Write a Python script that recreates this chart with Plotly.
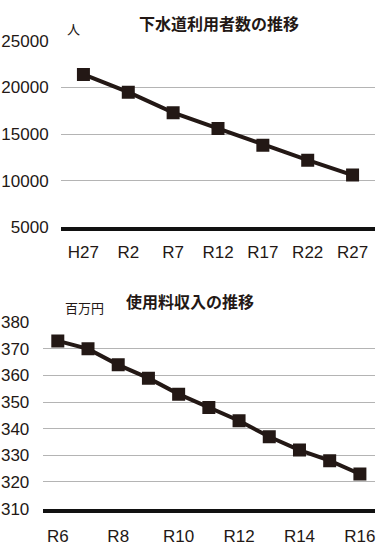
import plotly.graph_objects as go

# Top chart: 下水道利用者数
years1 = ["H27", "R2", "R7", "R12", "R17", "R22", "R27"]
users = [21400, 19500, 17300, 15600, 13800, 12200, 10600]
y1_ticks = [5000, 10000, 15000, 20000, 25000]
y1_labels = ["5000", "10000", "15000", "20000", "25000"]

# Bottom chart: 使用料収入
years2 = ["R6", "R7", "R8", "R9", "R10", "R11", "R12", "R13", "R14", "R15", "R16"]
revenue = [373, 370, 364, 359, 353, 348, 343, 337, 332, 328, 323]
x2_ticks = ["R6", "R8", "R10", "R12", "R14", "R16"]
y2_ticks = [310, 320, 330, 340, 350, 360, 370, 380]

INK = "#231815"
GRID = "#b4b4b4"
TICKFONT = dict(family="Liberation Sans, Arial, sans-serif", size=17, color=INK)
JP = "Noto Sans CJK JP"

W, H = 383, 555

fig = go.Figure()
fig.add_trace(go.Scatter(
    x=years1, y=users, mode="lines+markers", xaxis="x", yaxis="y",
    line=dict(color=INK, width=4),
    marker=dict(symbol="square", size=13, color=INK),
    showlegend=False, hoverinfo="skip"))
fig.add_trace(go.Scatter(
    x=years2, y=revenue, mode="lines+markers", xaxis="x2", yaxis="y2",
    line=dict(color=INK, width=4),
    marker=dict(symbol="square", size=13, color=INK),
    showlegend=False, hoverinfo="skip"))

def px_x(p):
    return p / W

def px_y(p):
    return 1 - p / H

fig.update_layout(
    width=W, height=H,
    margin=dict(l=0, r=0, t=0, b=0),
    paper_bgcolor="white", plot_bgcolor="white",
    xaxis=dict(domain=[px_x(61), px_x(375)], anchor="y",
               type="category", range=[-0.5, 6.5],
               showgrid=False, showline=True, linecolor="#111111", linewidth=3.5,
               ticks="outside", ticklen=7, tickcolor="rgba(0,0,0,0)",
               tickfont=TICKFONT, fixedrange=True),
    yaxis=dict(domain=[px_y(226), px_y(33)], anchor="x",
               range=[5000, 25000.5], tickvals=y1_ticks, ticktext=y1_labels,
               showgrid=True, gridcolor=GRID, gridwidth=1,
               zeroline=False, showline=False,
               ticks="outside", ticklen=8, tickcolor="rgba(0,0,0,0)",
               tickfont=TICKFONT, fixedrange=True),
    xaxis2=dict(domain=[px_x(42.7), px_x(375)], anchor="y2",
                type="category", range=[-0.5, 10.5],
                tickvals=x2_ticks, ticktext=x2_ticks,
                showgrid=False, showline=True, linecolor="#111111", linewidth=3.5,
                ticks="outside", ticklen=9, tickcolor="rgba(0,0,0,0)",
                tickfont=TICKFONT, fixedrange=True),
    yaxis2=dict(domain=[px_y(517.3), px_y(324.3)], anchor="x2",
                range=[310, 380.02], tickvals=y2_ticks,
                showgrid=True, gridcolor=GRID, gridwidth=1,
                zeroline=False, showline=False,
                ticks="outside", ticklen=9, tickcolor="rgba(0,0,0,0)",
                tickfont=TICKFONT, fixedrange=True),
    annotations=[
        dict(text="<b>下水道利用者数の推移</b>", x=px_x(219), y=px_y(15),
             xref="paper", yref="paper", yanchor="middle", showarrow=False,
             font=dict(family=JP, size=16, color=INK)),
        dict(text="人", x=px_x(65), y=px_y(20), xref="paper", yref="paper",
             yanchor="middle", showarrow=False,
             font=dict(family=JP, size=13, color=INK)),
        dict(text="<b>使用料収入の推移</b>", x=px_x(190), y=px_y(302),
             xref="paper", yref="paper", yanchor="middle", showarrow=False,
             font=dict(family=JP, size=16, color=INK)),
        dict(text="百万円", x=px_x(62.5), y=px_y(309), xref="paper", yref="paper",
             yanchor="middle", showarrow=False,
             font=dict(family=JP, size=13, color=INK)),
    ],
)

fig.write_html(
    "out.html",
    config={"displayModeBar": False},
    post_script="document.body.style.margin='0';document.body.style.overflow='hidden';",
)
